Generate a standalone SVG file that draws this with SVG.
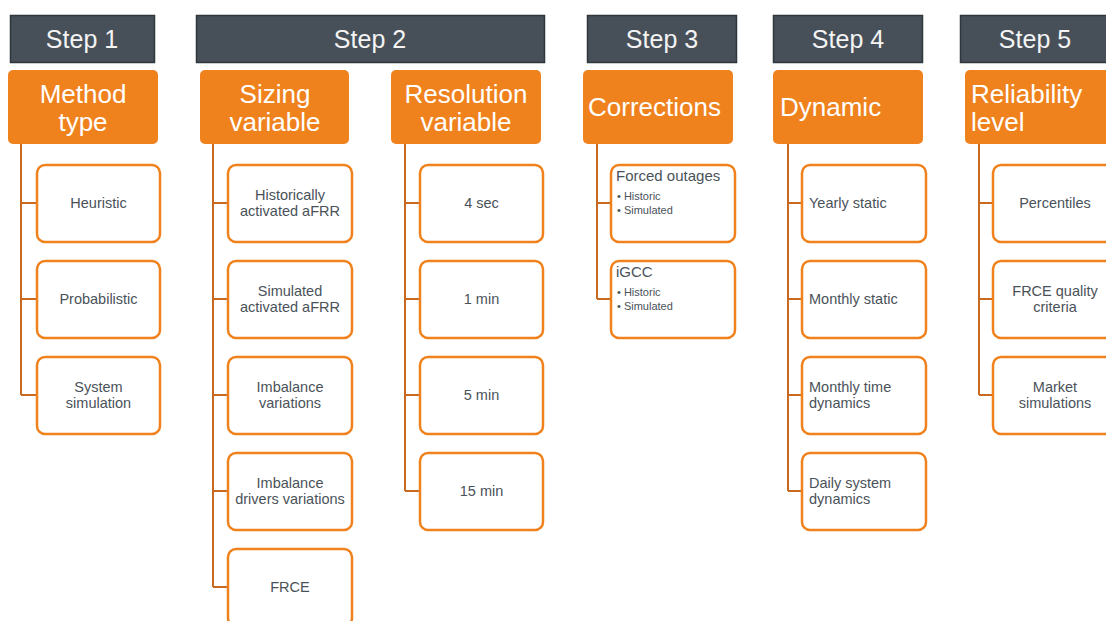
<svg xmlns="http://www.w3.org/2000/svg" width="1106" height="621" viewBox="0 0 1106 621">
<style>
.step{fill:#475059;stroke:#2f363c;stroke-width:1.5}
.steptxt{font-family:"Liberation Sans",Arial,sans-serif;font-size:25px;fill:#f4f4f4;text-anchor:middle}
.hdr{fill:#F0821E}
.hdrtxt{font-family:"Liberation Sans",Arial,sans-serif;font-size:26px;fill:#ffffff}
.mid{text-anchor:middle}
.box{fill:#ffffff;stroke:#F0821E;stroke-width:2.5}
.t{font-family:"Liberation Sans",Arial,sans-serif;font-size:14.5px;fill:#4a5259}
.c{text-anchor:middle}
.b{font-family:"Liberation Sans",Arial,sans-serif;font-size:11px;fill:#4a5259}
.conn{fill:none;stroke:#C8691F;stroke-width:2}
</style>
<rect width="1106" height="621" fill="#ffffff"/>
<g id="connectors">
<path class="conn" d="M21,144 V395 M21,203 H37 M21,299 H37 M21,395 H37"/>
<path class="conn" d="M213,144 V587 M213,203 H228 M213,299 H228 M213,395 H228 M213,491 H228 M213,587 H228"/>
<path class="conn" d="M405,144 V491 M405,203 H420 M405,299 H420 M405,395 H420 M405,491 H420"/>
<path class="conn" d="M597,144 V299 M597,203 H611 M597,299 H611"/>
<path class="conn" d="M788,144 V491 M788,203 H802 M788,299 H802 M788,395 H802 M788,491 H802"/>
<path class="conn" d="M979,144 V395 M979,203 H993 M979,299 H993 M979,395 H993"/>
</g>
<g id="step1"><rect class="step" x="10.5" y="15.5" width="144" height="47"/><text class="steptxt" x="82" y="48">Step 1</text></g>
<g id="step2"><rect class="step" x="196.5" y="15.5" width="348" height="47"/><text class="steptxt" x="370" y="48">Step 2</text></g>
<g id="step3"><rect class="step" x="587.5" y="15.5" width="149" height="47"/><text class="steptxt" x="662" y="48">Step 3</text></g>
<g id="step4"><rect class="step" x="773.5" y="15.5" width="149" height="47"/><text class="steptxt" x="848" y="48">Step 4</text></g>
<g id="step5"><rect class="step" x="960.5" y="15.5" width="149" height="47"/><text class="steptxt" x="1035" y="48">Step 5</text></g>

<g id="h-method"><rect class="hdr" x="8" y="70" width="150" height="74" rx="5"/><text class="hdrtxt mid" x="83" y="103">Method</text><text class="hdrtxt mid" x="83" y="131">type</text></g>
<g id="h-sizing"><rect class="hdr" x="200" y="70" width="149" height="74" rx="5"/><text class="hdrtxt mid" x="275" y="103">Sizing</text><text class="hdrtxt mid" x="275" y="131">variable</text></g>
<g id="h-resolution"><rect class="hdr" x="391" y="70" width="150" height="74" rx="5"/><text class="hdrtxt mid" x="466" y="103">Resolution</text><text class="hdrtxt mid" x="466" y="131">variable</text></g>
<g id="h-corrections"><rect class="hdr" x="583" y="70" width="150" height="74" rx="5"/><text class="hdrtxt" x="588" y="116">Corrections</text></g>
<g id="h-dynamic"><rect class="hdr" x="773" y="70" width="150" height="74" rx="5"/><text class="hdrtxt" x="780" y="116">Dynamic</text></g>
<g id="h-reliability"><rect class="hdr" x="965" y="70" width="150" height="74" rx="5"/><text class="hdrtxt" x="971" y="103">Reliability</text><text class="hdrtxt" x="971" y="131">level</text></g>

<g id="n-heuristic"><rect class="box" x="37" y="165" width="123" height="77" rx="8"/><text class="t c" x="98.5" y="208">Heuristic</text></g>
<g id="n-probabilistic"><rect class="box" x="37" y="261" width="123" height="77" rx="8"/><text class="t c" x="98.5" y="304">Probabilistic</text></g>
<g id="n-syssim"><rect class="box" x="37" y="357" width="123" height="77" rx="8"/><text class="t c" x="98.5" y="392">System</text><text class="t c" x="98.5" y="408">simulation</text></g>

<g id="n-hist-afrr"><rect class="box" x="228" y="165" width="124" height="77" rx="8"/><text class="t c" x="290" y="200">Historically</text><text class="t c" x="290" y="216">activated aFRR</text></g>
<g id="n-sim-afrr"><rect class="box" x="228" y="261" width="124" height="77" rx="8"/><text class="t c" x="290" y="296">Simulated</text><text class="t c" x="290" y="312">activated aFRR</text></g>
<g id="n-imb-var"><rect class="box" x="228" y="357" width="124" height="77" rx="8"/><text class="t c" x="290" y="392">Imbalance</text><text class="t c" x="290" y="408">variations</text></g>
<g id="n-imb-drv"><rect class="box" x="228" y="453" width="124" height="77" rx="8"/><text class="t c" x="290" y="488">Imbalance</text><text class="t c" x="290" y="504">drivers variations</text></g>
<g id="n-frce"><rect class="box" x="228" y="549" width="124" height="77" rx="8"/><text class="t c" x="290" y="592">FRCE</text></g>

<g id="n-4sec"><rect class="box" x="420" y="165" width="123" height="77" rx="8"/><text class="t c" x="481.5" y="208">4 sec</text></g>
<g id="n-1min"><rect class="box" x="420" y="261" width="123" height="77" rx="8"/><text class="t c" x="481.5" y="304">1 min</text></g>
<g id="n-5min"><rect class="box" x="420" y="357" width="123" height="77" rx="8"/><text class="t c" x="481.5" y="400">5 min</text></g>
<g id="n-15min"><rect class="box" x="420" y="453" width="123" height="77" rx="8"/><text class="t c" x="481.5" y="496">15 min</text></g>

<g id="n-forced"><rect class="box" x="611" y="165" width="124" height="77" rx="8"/><text class="t" x="616" y="181" style="font-size:15px">Forced outages</text><text class="b" x="617" y="200">• Historic</text><text class="b" x="617" y="214">• Simulated</text></g>
<g id="n-igcc"><rect class="box" x="611" y="261" width="124" height="77" rx="8"/><text class="t" x="616" y="277" style="font-size:15px">iGCC</text><text class="b" x="617" y="296">• Historic</text><text class="b" x="617" y="310">• Simulated</text></g>

<g id="n-yearly"><rect class="box" x="802" y="165" width="124" height="77" rx="8"/><text class="t" x="809" y="208">Yearly static</text></g>
<g id="n-monthly"><rect class="box" x="802" y="261" width="124" height="77" rx="8"/><text class="t" x="809" y="304">Monthly static</text></g>
<g id="n-monthly-dyn"><rect class="box" x="802" y="357" width="124" height="77" rx="8"/><text class="t" x="809" y="392">Monthly time</text><text class="t" x="809" y="408">dynamics</text></g>
<g id="n-daily"><rect class="box" x="802" y="453" width="124" height="77" rx="8"/><text class="t" x="809" y="488">Daily system</text><text class="t" x="809" y="504">dynamics</text></g>

<g id="n-percentiles"><rect class="box" x="993" y="165" width="124" height="77" rx="8"/><text class="t c" x="1055" y="208">Percentiles</text></g>
<g id="n-frce-q"><rect class="box" x="993" y="261" width="124" height="77" rx="8"/><text class="t c" x="1055" y="296">FRCE quality</text><text class="t c" x="1055" y="312">criteria</text></g>
<g id="n-market"><rect class="box" x="993" y="357" width="124" height="77" rx="8"/><text class="t c" x="1055" y="392">Market</text><text class="t c" x="1055" y="408">simulations</text></g>
</svg>
